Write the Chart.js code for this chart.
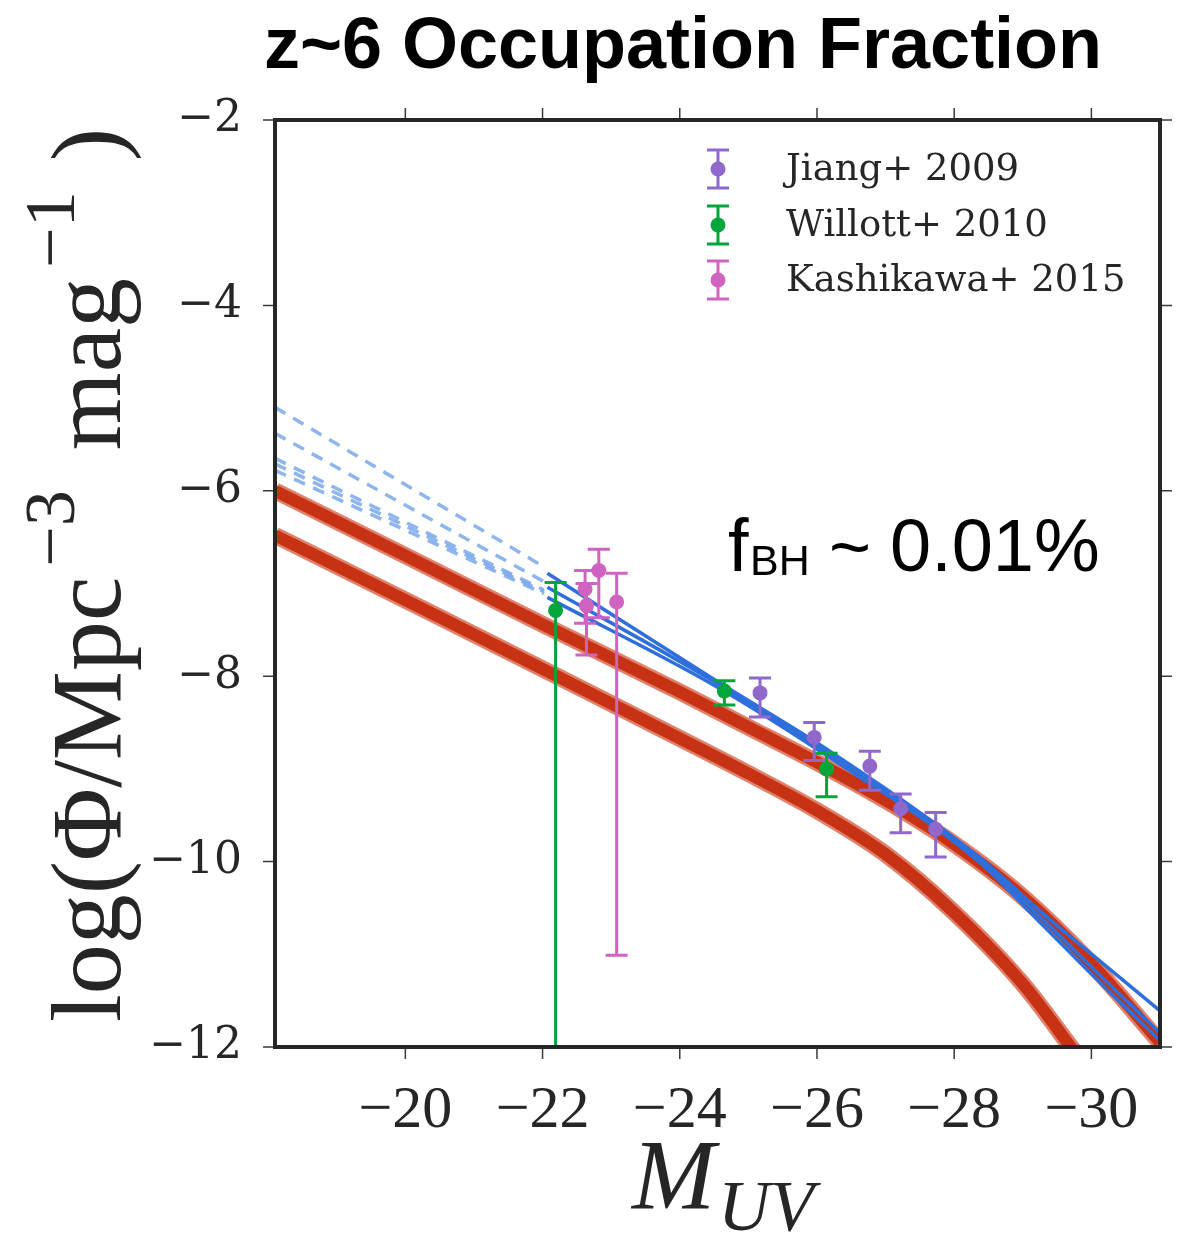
<!DOCTYPE html>
<html>
<head>
<meta charset="utf-8">
<title>z~6 Occupation Fraction</title>
<script src="https://cdn.jsdelivr.net/npm/chart.js@4.4.0/dist/chart.umd.min.js"></script>
<style>
  html, body { margin: 0; padding: 0; background: #fff; }
  #wrap { width: 1184px; height: 1235px; }
</style>
</head>
<body>
<div id="wrap"><canvas id="lf" width="1184" height="1235"></canvas></div>
<script>
// QLF measurements: M_UV, log Phi and the upper / lower ends of each error bar
const jiangM   = [-25.17, -25.96, -26.77, -27.22, -27.73];
const jiangPhi = [-8.18, -8.66, -8.97, -9.43, -9.65];
const jiangHi  = [-8.02, -8.50, -8.81, -9.27, -9.47];
const jiangLo  = [-8.44, -8.91, -9.23, -9.69, -9.95];

const willottM   = [-22.19, -24.65, -26.14];
const willottPhi = [-7.29, -8.16, -9.00];
const willottHi  = [-6.99, -8.05, -8.83];
const willottLo  = [-13.0, -8.31, -9.30];

const kashiM   = [-22.62, -22.64, -22.82, -23.08];
const kashiPhi = [-7.06, -7.24, -6.86, -7.20];
const kashiHi  = [-6.86, -7.00, -6.63, -6.89];
const kashiLo  = [-7.43, -7.77, -7.37, -11.01];

// model bands (occupation fraction ~0.01%)
const upperBandM   = [-18.1, -20, -22, -24, -25, -26, -27, -28, -29, -30, -31];
const upperBandPhi = [-6.00, -6.70, -7.44, -8.17, -8.55, -8.93, -9.34, -9.81, -10.38, -11.10, -11.95];
const lowerBandM   = [-18.1, -20, -22, -24, -25, -26, -27, -28, -29, -29.8];
const lowerBandPhi = [-6.48, -7.18, -7.92, -8.67, -9.05, -9.45, -9.92, -10.55, -11.32, -12.10];

// double power-law fits: solid over the data range, dashed extrapolation
const fitM    = [-22.07, -24.53, -26.17, -28.36, -29.23, -30.2, -31];
const fitPhiA = [-6.89, -8.05, -8.80, -9.95, -10.52, -11.12, -11.61];
const fitPhiB = [-7.04, -8.07, -8.84, -9.98, -10.58, -11.28, -11.85];
const fitPhiC = [-7.15, -8.11, -8.87, -10.00, -10.64, -11.36, -11.93];

const extM    = [-18.1, -22.02];
const extPhiA = [-5.10, -6.82];
const extPhiB = [-5.38, -6.98];
const extPhiC = [-5.65, -7.07];
const extPhiD = [-5.71, -7.09];
const extPhiE = [-5.78, -7.11];

const xTicks = [-20, -22, -24, -26, -28, -30];
const yTicks = [-12, -10, -8, -6, -4, -2];

const INK = '#262626';
const RED_WIDE = 'rgba(212,80,50,0.72)';
const RED_CORE = 'rgba(198,44,14,0.92)';
const BLUE = '#2e6fdc';
const BLUE_DASH = 'rgba(122,168,234,0.85)';

function pts(xs, ys) {
  return xs.map((x, i) => ({ x: x, y: ys[i] }));
}
function minus(v) {
  return (v < 0 ? '\u2212' : '') + Math.abs(v);
}

function band(xs, ys, color, width, order) {
  return { data: pts(xs, ys), showLine: true, borderColor: color, borderWidth: width,
           pointRadius: 0, cubicInterpolationMode: 'monotone', clip: 0, order: order };
}
function fit(xs, ys, dashed) {
  return { data: pts(xs, ys), showLine: true, borderColor: dashed ? BLUE_DASH : BLUE,
           borderWidth: 3.5, borderDash: dashed ? [12, 9] : [],
           pointRadius: 0, cubicInterpolationMode: 'monotone', clip: 0, order: dashed ? 5 : 4 };
}
function obs(label, xs, ys, hi, lo, color, order) {
  return { label: label, data: pts(xs, ys), errHi: hi, errLo: lo, showLine: false,
           backgroundColor: color, borderColor: color, borderWidth: 0, pointRadius: 7.5,
           clip: 0, order: order };
}

const datasets = [
  obs('Jiang+ 2009', jiangM, jiangPhi, jiangHi, jiangLo, '#9068cc', 2),
  obs('Willott+ 2010', willottM, willottPhi, willottHi, willottLo, '#02a63a', 1),
  obs('Kashikawa+ 2015', kashiM, kashiPhi, kashiHi, kashiLo, '#d062c2', 0),
  band(upperBandM, upperBandPhi, RED_WIDE, 17, 8),
  band(lowerBandM, lowerBandPhi, RED_WIDE, 17, 8),
  band(upperBandM, upperBandPhi, RED_CORE, 12, 7),
  band(lowerBandM, lowerBandPhi, RED_CORE, 12, 7),
  fit(extM, extPhiA, true), fit(extM, extPhiB, true), fit(extM, extPhiC, true),
  fit(extM, extPhiD, true), fit(extM, extPhiE, true),
  fit(fitM, fitPhiA, false), fit(fitM, fitPhiB, false), fit(fitM, fitPhiC, false)
];

// vertical error bars with caps, drawn just under each set of markers
const errorBars = {
  id: 'errorBars',
  beforeDatasetDraw(chart, args) {
    const ds = chart.data.datasets[args.index];
    if (!ds.errHi) return;
    const { ctx, chartArea: a, scales: { x, y } } = chart;
    ctx.save();
    ctx.beginPath();
    ctx.rect(a.left, a.top, a.right - a.left, a.bottom - a.top);
    ctx.clip();
    ctx.strokeStyle = ds.backgroundColor;
    ctx.lineWidth = 3;
    ds.data.forEach((p, i) => {
      const px = x.getPixelForValue(p.x);
      const top = y.getPixelForValue(ds.errHi[i]);
      const bot = y.getPixelForValue(ds.errLo[i]);
      ctx.beginPath();
      ctx.moveTo(px, top); ctx.lineTo(px, bot);
      ctx.moveTo(px - 11, top); ctx.lineTo(px + 11, top);
      ctx.moveTo(px - 11, bot); ctx.lineTo(px + 11, bot);
      ctx.stroke();
    });
    ctx.restore();
  }
};

// axes box with outward ticks on all four sides
const frame = {
  id: 'frame',
  afterDatasetsDraw(chart) {
    const { ctx, chartArea: a, scales: { x, y } } = chart;
    ctx.save();
    ctx.strokeStyle = '#3a3a3a';
    ctx.lineWidth = 1.5;
    ctx.beginPath();
    xTicks.forEach(v => {
      const px = x.getPixelForValue(v);
      ctx.moveTo(px, a.bottom); ctx.lineTo(px, a.bottom + 12);
      ctx.moveTo(px, a.top); ctx.lineTo(px, a.top - 12);
    });
    yTicks.forEach(v => {
      const py = y.getPixelForValue(v);
      ctx.moveTo(a.left, py); ctx.lineTo(a.left - 12, py);
      ctx.moveTo(a.right, py); ctx.lineTo(a.right + 12, py);
    });
    ctx.stroke();
    ctx.strokeStyle = INK;
    ctx.lineWidth = 4;
    ctx.strokeRect(a.left, a.top, a.right - a.left, a.bottom - a.top);
    ctx.restore();
  }
};

// legend with error-bar glyphs
const legendBox = {
  id: 'legendBox',
  afterDraw(chart) {
    const ctx = chart.ctx;
    const rows = [169, 225, 280];
    ctx.save();
    chart.data.datasets.filter(d => d.errHi).forEach((d, i) => {
      const cy = rows[i], cx = 718;
      ctx.strokeStyle = d.backgroundColor;
      ctx.fillStyle = d.backgroundColor;
      ctx.lineWidth = 3;
      ctx.beginPath();
      ctx.moveTo(cx, cy - 19); ctx.lineTo(cx, cy + 19);
      ctx.moveTo(cx - 11, cy - 19); ctx.lineTo(cx + 11, cy - 19);
      ctx.moveTo(cx - 11, cy + 19); ctx.lineTo(cx + 11, cy + 19);
      ctx.stroke();
      ctx.beginPath();
      ctx.arc(cx, cy, 7.5, 0, Math.PI * 2);
      ctx.fill();
      ctx.fillStyle = INK;
      ctx.font = '37px "DejaVu Serif"';
      ctx.textBaseline = 'middle';
      ctx.textAlign = 'left';
      ctx.fillText(d.label, 786, cy + 1);
    });
    ctx.restore();
  }
};

// title, axis labels and the f_BH note
const labels = {
  id: 'labels',
  afterDraw(chart) {
    const ctx = chart.ctx;
    ctx.save();
    ctx.fillStyle = '#000';
    ctx.textBaseline = 'alphabetic';
    ctx.textAlign = 'center';
    ctx.font = 'bold 72px "Liberation Sans"';
    ctx.fillText('z~6 Occupation Fraction', 683, 68);

    ctx.textAlign = 'left';
    ctx.font = '74px "Liberation Sans"';
    ctx.fillText('f', 728, 571);
    ctx.font = '43px "Liberation Sans"';
    ctx.fillText('BH', 750, 575);
    ctx.font = '72px "Liberation Sans"';
    ctx.fillText('~', 829, 572);
    ctx.font = '74px "Liberation Sans"';
    ctx.fillText('0.01%', 890, 571);

    ctx.fillStyle = INK;
    ctx.font = 'italic 100px "Liberation Serif"';
    ctx.fillText('M', 632, 1208);
    ctx.font = 'italic 72px "Liberation Serif"';
    ctx.fillText('UV', 718, 1230);

    // rotated y label: log(Phi/Mpc^-3 mag^-1)
    ctx.translate(120, 1022);
    ctx.rotate(-Math.PI / 2);
    const big = '100px "Liberation Serif"', sup = '72px "Liberation Serif"';
    let cx = 0;
    const seg = (t, f, dy) => { ctx.font = f; ctx.fillText(t, cx, dy); cx += ctx.measureText(t).width; };
    seg('log(\u03a6/Mpc', big, 0);
    cx += 10;
    seg('\u22123', sup, -46);
    cx += 40;
    seg('mag', big, 0);
    cx += 10;
    seg('\u22121', sup, -46);
    cx += 30;
    seg(')', big, 0);
    ctx.restore();
  }
};

new Chart(document.getElementById('lf'), {
  type: 'scatter',
  data: { datasets: datasets },
  options: {
    responsive: false,
    animation: false,
    events: [],
    layout: { padding: { top: 120, right: 24, left: 0, bottom: 0 } },
    plugins: { legend: { display: false }, tooltip: { enabled: false } },
    scales: {
      x: {
        type: 'linear', reverse: true, min: -31, max: -18.1,
        afterFit: s => { s.height = 188; },
        afterBuildTicks: s => { s.ticks = xTicks.map(v => ({ value: v })); },
        grid: { display: false, drawTicks: false },
        border: { display: false },
        ticks: { color: INK, padding: 28, maxRotation: 0, autoSkip: false,
                 font: { family: '"Liberation Serif"', size: 60 }, callback: v => minus(v) }
      },
      y: {
        type: 'linear', min: -12, max: -2,
        afterFit: s => { s.width = 275; },
        afterBuildTicks: s => { s.ticks = yTicks.map(v => ({ value: v })); },
        grid: { display: false, drawTicks: false },
        border: { display: false },
        ticks: { color: INK, padding: 33, autoSkip: false,
                 font: { family: '"DejaVu Serif"', size: 44 }, callback: v => minus(v) }
      }
    }
  },
  plugins: [errorBars, frame, legendBox, labels]
});
</script>
</body>
</html>
